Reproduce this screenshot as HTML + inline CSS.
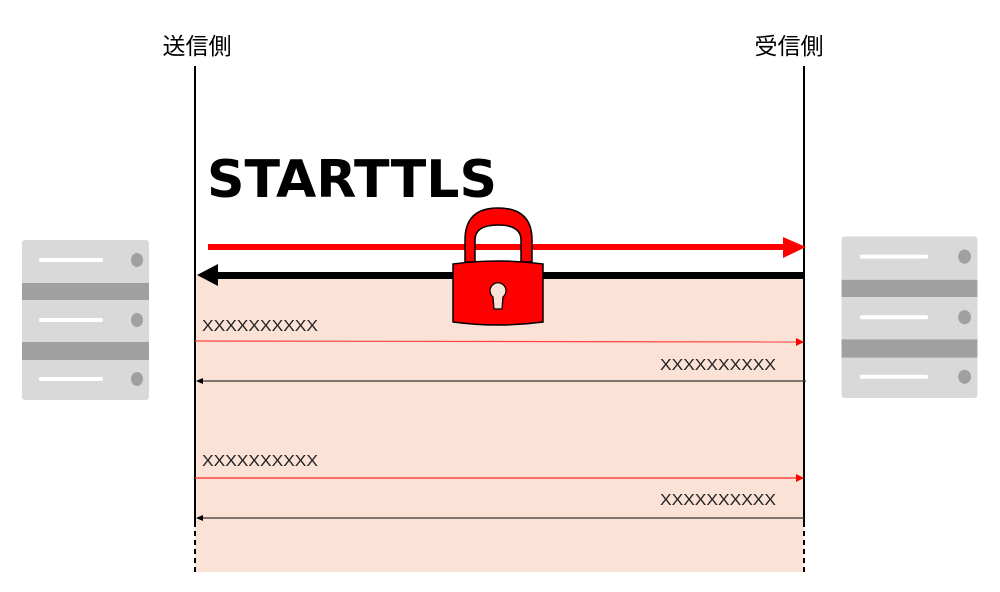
<!DOCTYPE html>
<html><head><meta charset="utf-8"><style>
html,body{margin:0;padding:0;background:#fff;width:1000px;height:592px;overflow:hidden}
</style></head><body>
<svg width="1000" height="592" viewBox="0 0 1000 592" xmlns="http://www.w3.org/2000/svg">
<rect x="195" y="275" width="609" height="297" fill="#fbe2d6"/>
<text x="197" y="54" font-family="Liberation Sans, Noto Sans CJK JP, sans-serif" font-size="23" text-anchor="middle" fill="#000">送信側</text>
<text x="789" y="54" font-family="Liberation Sans, Noto Sans CJK JP, sans-serif" font-size="23" text-anchor="middle" fill="#000">受信側</text>
<line x1="195" y1="66" x2="195" y2="522" stroke="#000" stroke-width="2"/>
<line x1="195" y1="522" x2="195" y2="572" stroke="#000" stroke-width="2" stroke-dasharray="5,4"/>
<line x1="804" y1="66" x2="804" y2="522" stroke="#000" stroke-width="2"/>
<line x1="804" y1="522" x2="804" y2="572" stroke="#000" stroke-width="2" stroke-dasharray="5,4"/>
<text x="207" y="197" font-family="DejaVu Sans, Liberation Sans, sans-serif" font-weight="bold" font-size="52" fill="#000" textLength="290" lengthAdjust="spacingAndGlyphs">STARTTLS</text>
<rect x="208" y="244" width="580" height="6" fill="#f00"/>
<polygon points="783,237 806,247 783,258" fill="#f00"/>
<rect x="214" y="272" width="590" height="7" fill="#000"/>
<polygon points="197,275 218,264 218,286" fill="#000"/>
<path d="M465,262 L465,240 Q465,208 498,208 Q532,208 532,240 L532,262 L521,262 L521,240 Q521,225 498,225 Q475,225 475,240 L475,262 Z" fill="#f00" stroke="#000" stroke-width="1.5"/>
<path d="M453,264 Q498,258 543,264 L543,322 Q498,328 453,322 Z" fill="#f00" stroke="#000" stroke-width="1.5"/>
<path d="M493,297 A8,8 0 1 1 503,297 L502,309 L494,309 Z" fill="#fbe2d6" stroke="#000" stroke-width="1.3"/>
<g font-family="Liberation Sans, sans-serif" font-size="16" fill="#222">
<text x="202" y="331" textLength="116" lengthAdjust="spacingAndGlyphs">XXXXXXXXXX</text>
<text x="660" y="370" textLength="116" lengthAdjust="spacingAndGlyphs">XXXXXXXXXX</text>
<text x="202" y="466" textLength="116" lengthAdjust="spacingAndGlyphs">XXXXXXXXXX</text>
<text x="660" y="505" textLength="116" lengthAdjust="spacingAndGlyphs">XXXXXXXXXX</text>
</g>
<line x1="195" y1="341" x2="798" y2="342" stroke="#f44" stroke-width="1.2"/>
<polygon points="796,338 804,342 796,346" fill="#f00"/>
<line x1="202" y1="381" x2="806" y2="381" stroke="#333" stroke-width="1.2"/>
<polygon points="196,381 203,378 203,384" fill="#000"/>
<line x1="195" y1="478" x2="798" y2="478" stroke="#f22" stroke-width="1.2"/>
<polygon points="796,474 804,478 796,482" fill="#f00"/>
<line x1="202" y1="518" x2="804" y2="518" stroke="#333" stroke-width="1.2"/>
<polygon points="196,518 203,515 203,521" fill="#000"/>
<g id="srv">
<rect x="22" y="240" width="127" height="160" rx="3" fill="#d9d9d9"/>
<rect x="22" y="283" width="127" height="17" fill="#a0a0a0"/>
<rect x="22" y="342" width="127" height="18" fill="#a0a0a0"/>
<rect x="39" y="258" width="64" height="4" rx="2" fill="#fff"/>
<rect x="39" y="318" width="64" height="4" rx="2" fill="#fff"/>
<rect x="39" y="377" width="64" height="4" rx="2" fill="#fff"/>
<ellipse cx="137" cy="260" rx="6" ry="7" fill="#a0a0a0"/>
<ellipse cx="137" cy="320" rx="6" ry="7" fill="#a0a0a0"/>
<ellipse cx="137" cy="379" rx="6" ry="7" fill="#a0a0a0"/>
</g>
<g transform="translate(818,-6) scale(1.07,1.01)">
<use href="#srv"/>
</g>
</svg>
</body></html>
